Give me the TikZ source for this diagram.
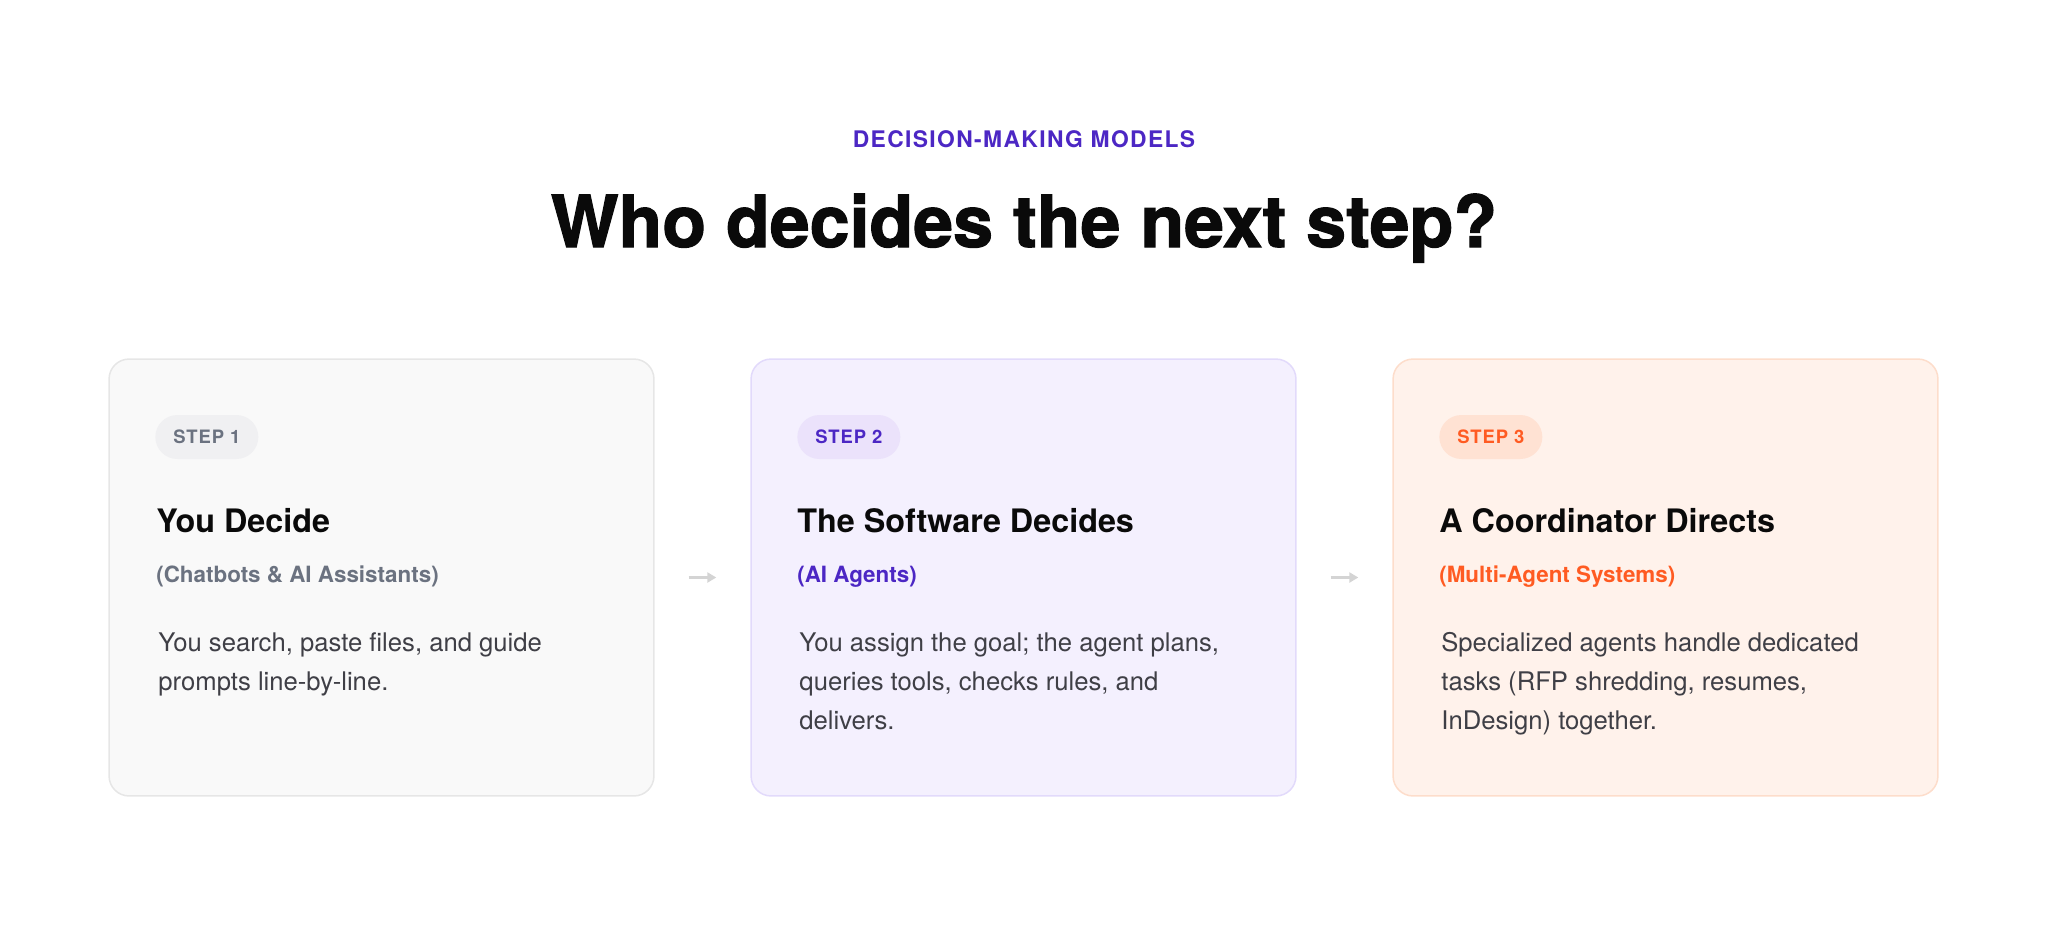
\documentclass[tikz,border=0pt]{standalone}
\usepackage{fontspec}
\setmainfont{TeX Gyre Heros}
\newfontfamily\Tracked{TeX Gyre Heros}[LetterSpace=6]
\newfontfamily\Spaced{TeX Gyre Heros}[LetterSpace=5]
\newfontfamily\Heavy{TeX Gyre Heros}[BoldFeatures={FakeBold=1.6}]
\usepackage{tikz}
\usetikzlibrary{arrows.meta,positioning}

\definecolor{Ink}{HTML}{0A0A0A}
\definecolor{Body}{HTML}{3F3F46}
\definecolor{Violet}{HTML}{4C27C4}
\definecolor{Slate}{HTML}{6B7280}
\definecolor{Coral}{HTML}{FF5B22}
\definecolor{GreyFill}{HTML}{F9F9F9}
\definecolor{GreyLine}{HTML}{E6E6E6}
\definecolor{GreyPill}{HTML}{F0F0F2}
\definecolor{VioletFill}{HTML}{F4F0FE}
\definecolor{VioletLine}{HTML}{E2DAFB}
\definecolor{VioletPill}{HTML}{EBE2FB}
\definecolor{CoralFill}{HTML}{FFF2EB}
\definecolor{CoralLine}{HTML}{FDDDCB}
\definecolor{CoralPill}{HTML}{FFE2D3}
\definecolor{ArrowGrey}{HTML}{D4D4D4}

\newcommand{\Lines}[1]{\begin{tabular}[t]{@{}l@{}}#1\end{tabular}}

\begin{document}
\begin{tikzpicture}[x=0.02cm, y=-0.02cm]
			\tikzstyle{Card}	= [rectangle, rounded corners=0.4cm, line width=0.03cm, minimum width=10.9cm, minimum height=8.74cm, inner sep=0pt]
			\tikzstyle{Pill}	= [rectangle, rounded corners=0.44cm, minimum width=2.06cm, minimum height=0.88cm, inner sep=0pt, anchor=west, font={\Spaced\bfseries\fontsize{10.5}{12}\selectfont}]
			\tikzstyle{Head}	= [anchor=base west, inner sep=0pt, text=Ink, font={\bfseries\fontsize{18.4}{22}\selectfont}]
			\tikzstyle{Sub}		= [anchor=base west, inner sep=0pt, font={\bfseries\fontsize{12.75}{16}\selectfont}]
			\tikzstyle{Text}	= [anchor=base west, inner sep=0pt, text=Body, font={\fontsize{14.6}{22.4}\selectfont}]
			\tikzstyle{Link}	= [line width=0.06cm, ArrowGrey, -{Triangle[length=0.18cm, width=0.2cm]}, shorten <=0.68cm, shorten >=0.68cm]

			\useasboundingbox (0,0) rectangle (2048,934);

			% heading
			\node (kicker) at (1024,147) [anchor=base, inner sep=0pt, text=Violet, font={\Tracked\bfseries\fontsize{13}{16}\selectfont}] {DECISION-MAKING MODELS};
			\node (title) at (1024,247) [anchor=base, inner sep=0pt, text=Ink, font={\Heavy\bfseries\fontsize{40.8}{44}\selectfont}] {Who decides the next step?};

			% cards
			\node (c1) at (381.5,577.5) [Card, fill=GreyFill, draw=GreyLine] {};
			\node (c2) at (1023.5,577.5) [Card, fill=VioletFill, draw=VioletLine] {};
			\node (c3) at (1665.5,577.5) [Card, fill=CoralFill, draw=CoralLine] {};

			\draw (c1) to (c2) [Link];
			\draw (c2) to (c3) [Link];

			% step 1
			\node (p1) at (155,437) [Pill, fill=GreyPill, text=Slate] {STEP 1};
			\node (h1) at (156,532) [Head] {You Decide};
			\node (s1) at (156,582) [Sub, text=Slate] {(Chatbots \& AI Assistants)};
			\node (t1) at (158,651) [Text] {\Lines{You search, paste files, and guide\\prompts line-by-line.}};

			% step 2
			\node (p2) at (797,437) [Pill, fill=VioletPill, text=Violet] {STEP 2};
			\node (h2) at (797,532) [Head] {The Software Decides};
			\node (s2) at (797,582) [Sub, text=Violet] {(AI Agents)};
			\node (t2) at (799,651) [Text] {\Lines{You assign the goal; the agent plans,\\queries tools, checks rules, and\\delivers.}};

			% step 3
			\node (p3) at (1439,437) [Pill, fill=CoralPill, text=Coral] {STEP 3};
			\node (h3) at (1439,532) [Head] {A Coordinator Directs};
			\node (s3) at (1439,582) [Sub, text=Coral] {(Multi-Agent Systems)};
			\node (t3) at (1441,651) [Text] {\Lines{Specialized agents handle dedicated\\tasks (RFP shredding, resumes,\\InDesign) together.}};
\end{tikzpicture}
\end{document}
